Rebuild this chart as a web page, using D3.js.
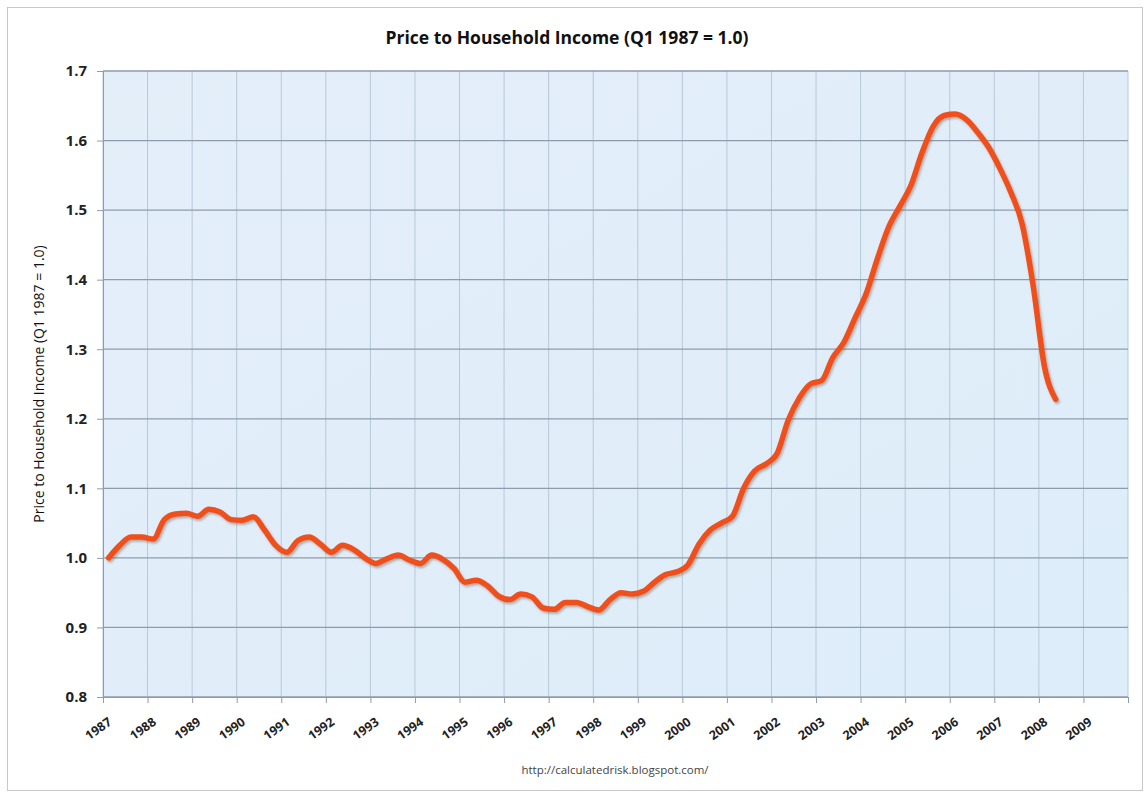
<!DOCTYPE html>
<html>
<head>
<meta charset="utf-8">
<script src="https://cdn.jsdelivr.net/npm/d3@7"></script>
<style>
  body { margin: 0; background: #fff; }
  text { font-family: "Open Sans", "Liberation Sans", sans-serif; }
</style>
</head>
<body>
<div id="chart"></div>
<script>
// quarterly ratio, Q1 1987 .. Q2 2008
var startYear = 1987;
var ratio = [
  1.000, 1.018, 1.030, 1.030, 1.027, 1.055, 1.063, 1.064,
  1.060, 1.070, 1.066, 1.055, 1.054, 1.059, 1.040, 1.018,
  1.008, 1.025, 1.030, 1.020, 1.008, 1.018, 1.012, 1.000,
  0.992, 0.999, 1.004, 0.997, 0.992, 1.004, 0.998, 0.985,
  0.965, 0.968, 0.960, 0.945, 0.940, 0.948, 0.944, 0.928,
  0.926, 0.936, 0.936, 0.930, 0.925, 0.940, 0.950, 0.948,
  0.952, 0.965, 0.976, 0.980, 0.990, 1.020, 1.040, 1.050,
  1.060, 1.100, 1.125, 1.135, 1.150, 1.198, 1.230, 1.250,
  1.255, 1.288, 1.310, 1.345, 1.380, 1.430, 1.475, 1.505,
  1.535, 1.582, 1.620, 1.636, 1.638, 1.630, 1.612, 1.590,
  1.560, 1.525, 1.480, 1.390, 1.275, 1.228
];
var yearTicks = d3.range(1987, 2010);
var yTicks = [0.8, 0.9, 1.0, 1.1, 1.2, 1.3, 1.4, 1.5, 1.6, 1.7];

var W = 1145, H = 793;
var margin = { top: 71, right: 17, bottom: 96, left: 103 },
    width = W - margin.left - margin.right,
    height = H - margin.top - margin.bottom;

var root = d3.select("#chart").append("svg")
    .attr("width", W)
    .attr("height", H);

var defs = root.append("defs");
var bg = defs.append("linearGradient").attr("id", "bg")
    .attr("x1", 0).attr("y1", 0).attr("x2", 1).attr("y2", 1);
bg.append("stop").attr("offset", "0%").attr("stop-color", "#e4eef9");
bg.append("stop").attr("offset", "100%").attr("stop-color", "#ddedfa");
var shadow = defs.append("filter").attr("id", "shadow")
    .attr("x", "-5%").attr("y", "-5%").attr("width", "110%").attr("height", "110%");
shadow.append("feDropShadow")
    .attr("dx", 1.5).attr("dy", 2).attr("stdDeviation", 1.2)
    .attr("flood-color", "#7a5a40").attr("flood-opacity", 0.45);

// chart frame
root.append("rect")
    .attr("x", 7.5).attr("y", 7.5)
    .attr("width", W - 10).attr("height", H - 10)
    .attr("fill", "#fff")
    .attr("stroke", "#c8c8c8");

var svg = root.append("g")
    .attr("transform", "translate(" + margin.left + "," + margin.top + ")");

var x = d3.scaleLinear().domain([1987, 2010]).range([0, width]);
var y = d3.scaleLinear().domain([0.8, 1.7]).range([height, 0]);

// plot area
svg.append("rect")
    .attr("width", width).attr("height", height)
    .attr("fill", "url(#bg)");

// vertical grid
svg.append("g")
    .selectAll("line")
    .data(yearTicks.concat([2010]))
    .join("line")
    .attr("x1", function (d) { return x(d); })
    .attr("x2", function (d) { return x(d); })
    .attr("y1", 0).attr("y2", height)
    .attr("stroke", "#b8c8d8")
    .attr("stroke-width", 1);

// horizontal grid
svg.append("g")
    .selectAll("line")
    .data(yTicks)
    .join("line")
    .attr("x1", 0).attr("x2", width)
    .attr("y1", function (d) { return y(d); })
    .attr("y2", function (d) { return y(d); })
    .attr("stroke", "#8e9bab")
    .attr("stroke-width", 1.3);

// y axis
var yAxis = svg.append("g")
    .call(d3.axisLeft(y).tickValues(yTicks).tickFormat(d3.format(".1f")).tickSize(6).tickPadding(10));
yAxis.select(".domain").attr("stroke", "#8e9bab");
yAxis.selectAll(".tick line").attr("stroke", "#8e9bab");
yAxis.selectAll("text")
    .attr("font-size", 15)
    .attr("font-weight", "bold")
    .attr("fill", "#222");

// x axis
var xAxis = svg.append("g")
    .attr("transform", "translate(0," + height + ")")
    .call(d3.axisBottom(x).tickValues(yearTicks.concat([2010])).tickFormat(function (d) {
        return d < 2010 ? d : "";
    }).tickSize(6));
xAxis.select(".domain").attr("stroke", "#8e9bab");
xAxis.selectAll(".tick line").attr("stroke", "#8e9bab");
xAxis.selectAll("text")
    .attr("font-size", 12.5)
    .attr("font-weight", "bold")
    .attr("fill", "#222")
    .attr("text-anchor", "end")
    .attr("x", 0).attr("y", 0).attr("dy", 0)
    .attr("transform", "translate(9,27) rotate(-35)");

// the series
var line = d3.line()
    .x(function (d, i) { return x(startYear + (i + 0.5) / 4); })
    .y(function (d) { return y(d); })
    .curve(d3.curveMonotoneX);

svg.append("path")
    .datum(ratio)
    .attr("fill", "none")
    .attr("stroke", "#f0501e")
    .attr("stroke-width", 5.5)
    .attr("stroke-linejoin", "round")
    .attr("stroke-linecap", "round")
    .attr("filter", "url(#shadow)")
    .attr("d", line);

// titles
root.append("text")
    .attr("x", 567).attr("y", 44)
    .attr("text-anchor", "middle")
    .attr("font-size", 17.5)
    .attr("font-weight", "bold")
    .attr("fill", "#111")
    .text("Price to Household Income (Q1 1987 = 1.0)");

root.append("text")
    .attr("transform", "translate(44," + (margin.top + height / 2) + ") rotate(-90)")
    .attr("text-anchor", "middle")
    .attr("font-size", 14)
    .attr("fill", "#111")
    .text("Price to Household Income (Q1 1987 = 1.0)");

root.append("text")
    .attr("x", 615).attr("y", 774)
    .attr("text-anchor", "middle")
    .attr("font-size", 11.5)
    .attr("fill", "#444")
    .text("http://calculatedrisk.blogspot.com/");
</script>
</body>
</html>
